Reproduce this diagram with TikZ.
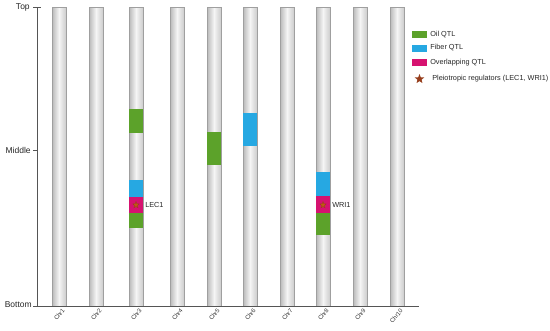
\documentclass[tikz,border=0pt]{standalone}
\usepackage{fontspec}
\setmainfont{Liberation Sans}
\usetikzlibrary{shapes.geometric}
\definecolor{oilgreen}{RGB}{92,162,42}
\definecolor{fiberblue}{RGB}{38,168,226}
\definecolor{overlapred}{RGB}{214,18,112}
\definecolor{regstar}{RGB}{150,62,28}
\definecolor{axisgray}{RGB}{85,85,85}
\tikzset{
  chrbar/.style={draw=gray!75, left color=gray!55, right color=gray!40, middle color=gray!8},
  regulator/.style={star, star points=5, star point ratio=2.3, inner sep=0pt},
  chrlabel/.style={font=\fontsize{6}{6}\selectfont, rotate=50, anchor=east, inner sep=0.5pt, text=black!80},
  levellabel/.style={font=\fontsize{8.5}{10}\selectfont, anchor=east, inner sep=1pt, text=black!85},
  legendtext/.style={font=\fontsize{7.3}{8}\selectfont, anchor=west, inner sep=1pt, text=black!85}
}
\begin{document}
\begin{tikzpicture}[x=1pt, y=-1pt, line width=0.6pt]
    \useasboundingbox (0,0) rectangle (550,330);
    % chromosomes
    \foreach \i/\cx in {1/59, 2/96, 3/136, 4/177, 5/214, 6/250, 7/287, 8/323, 9/360, 10/397} {
        \draw[chrbar] (\cx-7,7) rectangle (\cx+7,306);
        \node[chrlabel] (chr\i) at (\cx+5,309) {Chr\i};
    }

    % QTL on Chr3, Chr5, Chr6, Chr8
    \fill[oilgreen] (129,109) rectangle (143,133);
    \fill[fiberblue] (129,180) rectangle (143,197);
    \fill[overlapred] (129,197) rectangle (143,213);
    \fill[oilgreen] (129,213) rectangle (143,228);
    \fill[oilgreen] (207,132) rectangle (221,165);
    \fill[fiberblue] (243,113) rectangle (257,146);
    \fill[fiberblue] (316,172) rectangle (330,196);
    \fill[overlapred] (316,196) rectangle (330,213);
    \fill[oilgreen] (316,213) rectangle (330,235);

    \node[regulator, fill=regstar!60!orange, draw=regstar, line width=0.3pt, minimum size=7pt] (lecstar) at (136,205) {};
    \node[legendtext] (lec1) at (144,205) {LEC1};
    \node[regulator, fill=regstar!60!orange, draw=regstar, line width=0.3pt, minimum size=7pt] (wristar) at (323,205) {};
    \node[legendtext] (wri1) at (331,205) {WRI1};

    % axis
    \draw[axisgray] (37,7.5) -- (37,306) -- (419,306);
    \draw[axisgray] (33,7.5) -- (41,7.5);
    \draw[axisgray] (33,150) -- (37,150);
    \draw[axisgray] (33,306) -- (37,306);
    \node[levellabel] (top) at (31,7.5) {Top};
    \node[levellabel] (middle) at (32,150) {Middle};
    \node[levellabel] (bottom) at (33,305) {Bottom};

    % legend
    \fill[oilgreen] (412,31) rectangle (427,38);
    \node[legendtext] (oilkey) at (429,34.5) {Oil QTL};
    \fill[fiberblue] (412,44.5) rectangle (427,51.5);
    \node[legendtext] (fiberkey) at (429,48) {Fiber QTL};
    \fill[overlapred] (412,59) rectangle (427,66);
    \node[legendtext] (overlapkey) at (429,62.5) {Overlapping QTL};
    \node[regulator, fill=regstar, minimum size=10pt] (starkey) at (419.5,79) {};
    \node[legendtext] (regkey) at (431,79) {Pleiotropic regulators (LEC1, WRI1)};
\end{tikzpicture}
\end{document}
